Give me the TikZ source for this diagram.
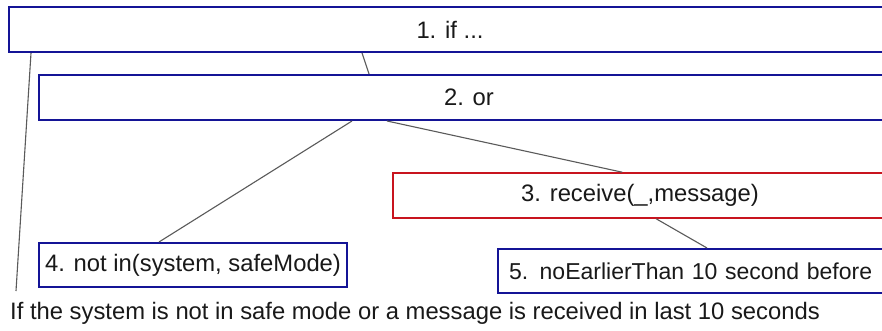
\documentclass[tikz,border=0pt]{standalone}
\usepackage{fontspec}
\setmainfont{Liberation Sans}
\usetikzlibrary{positioning}
\definecolor{boxblue}{RGB}{20,20,150}
\definecolor{boxred}{RGB}{200,20,30}
\definecolor{wire}{RGB}{90,90,90}
\tikzset{
  box/.style={draw=boxblue, line width=2pt, fill=white, inner sep=0pt,
              minimum height=45, font=\fontsize{23.8}{28}\selectfont, text=black!90},
  redbox/.style={box, draw=boxred, line width=1.6pt},
  wireline/.style={draw=wire, line width=1.1pt},
  caption/.style={font=\fontsize{23.8}{28}\selectfont, text=black!90, inner sep=0pt, anchor=west}
}
\begin{document}
\begin{tikzpicture}[x=1pt, y=-1pt]
  \useasboundingbox (0,0) rectangle (882,331);
  \clip (0,0) rectangle (882,331);
  \fill[white] (0,0) rectangle (882,331);

  % syntax-tree boxes
  \node[box, minimum width=882] (n1) at (450,29.5) {1. if ...};
  \node[box, minimum width=860] (n2) at (469,97.5) {2. or};
  \node[redbox, minimum width=494] (n3) at (640,195.5) {3. receive(\_,message)};
  \node[box, minimum width=308, minimum height=44] (n4) at (193,265) {4. not in(system, safeMode)};
  \node[box, minimum height=44, text width=380pt, inner xsep=11pt, align=left,
        font=\fontsize{23}{28}\selectfont] (n5) at (699,271) {5. noEarlierThan 10 second before};

  % explanation line and its leader
  \node[caption] (cap) at (10,313.5) {If the system is not in safe mode or a message is received in last 10 seconds};
  \coordinate (lead) at (16,291);

  % tree edges
  \draw[wireline] ([xshift=23pt]n1.south west) -- (lead);
  \draw[wireline] ([xshift=354pt]n1.south west) -- ([xshift=331pt]n2.north west);
  \draw[wireline] ([xshift=314pt]n2.south west) -- ([xshift=121pt]n4.north west);
  \draw[wireline] ([xshift=349pt]n2.south west) -- ([xshift=230pt]n3.north west);
  \draw[wireline] ([xshift=264pt]n3.south west) -- ([xshift=210pt]n5.north west);
\end{tikzpicture}
\end{document}
